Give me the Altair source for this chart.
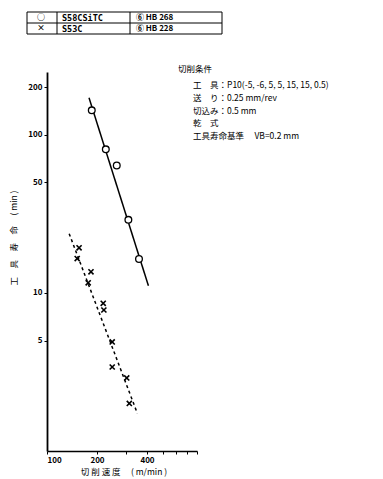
import altair as alt
import pandas as pd

# --- data ---
circ_x = [186, 226, 263, 309, 358]
circ_y = [143, 81, 64, 29, 16.4]
circ_line_x = [179, 408]
circ_line_y = [172, 11.1]

cross_x = [156, 152, 184, 177, 218, 220, 247, 247, 302, 313]
cross_y = [19.3, 16.5, 13.6, 11.6, 8.6, 7.8, 4.9, 3.4, 2.9, 2.0]
cross_line_x = [136, 350]
cross_line_y = [23.7, 1.73]

x_ticks = [100, 200, 300, 400, 500, 600, 700, 800]
x_labeled = [100, 200, 400]
y_ticks = [5, 10, 50, 100, 200]

legend_sym = ["○", "×"]
legend_mat = ["S58CSiTC", "S53C"]
legend_hb = ["⑥  HB  268", "⑥  HB  228"]

cond_title = "切削条件"
cond_lines = [
    "工　具：P10(-5, -6, 5, 5, 15, 15, 0.5)",
    "送　り：0.25 mm/rev",
    "切込み：0.5 mm",
    "乾　式",
    "工具寿命基準　 VB=0.2 mm",
]
x_title = "切 削 速 度　 ( m/min )"
y_title = "工　具　寿　命　 ( min )"

FONT = "Noto Sans CJK JP"
MONO = "DejaVu Sans Mono"

xs = alt.Scale(type="log", domain=[100, 800])
ys = alt.Scale(type="log", domain=[1, 250])

x_axis = alt.Axis(values=x_ticks, grid=False, title=None, tickSize=3,
                  labelExpr="indexof([100,200,400], datum.value) >= 0 ? datum.label : ''",
                  labelFont=FONT, labelFontSize=8, labelFontWeight="bold",
                  labelPadding=2, domainColor="black", domainWidth=1.5,
                  tickColor="black", labelColor="black", format="d")
y_axis = alt.Axis(values=y_ticks, grid=False, title=None, tickSize=3,
                  labelFont=FONT, labelFontSize=8, labelFontWeight="bold",
                  labelPadding=2, domainColor="black", domainWidth=1.8,
                  tickColor="black", labelColor="black", format="d")

circ_df = pd.DataFrame({"v": circ_x, "t": circ_y})
cross_df = pd.DataFrame({"v": cross_x, "t": cross_y})
cl_df = pd.DataFrame({"v": circ_line_x, "t": circ_line_y})
xl_df = pd.DataFrame({"v": cross_line_x, "t": cross_line_y})

base_x = alt.X("v:Q", scale=xs, axis=x_axis)
base_y = alt.Y("t:Q", scale=ys, axis=y_axis)

circ_line = alt.Chart(cl_df).mark_line(color="black", strokeWidth=1.5).encode(x=base_x, y=base_y)
cross_line = alt.Chart(xl_df).mark_line(color="black", strokeWidth=1.5, strokeDash=[3, 3]).encode(
    x=alt.X("v:Q", scale=xs), y=alt.Y("t:Q", scale=ys))
circ_pts = alt.Chart(circ_df).mark_point(shape="circle", filled=True, fill="white", stroke="black",
                                         strokeWidth=1.3, size=45, opacity=1).encode(
    x=alt.X("v:Q", scale=xs), y=alt.Y("t:Q", scale=ys))
cross_pts = alt.Chart(cross_df).mark_point(shape="M-1,-1L1,1M-1,1L1,-1", filled=False, stroke="black",
                                           strokeWidth=1.6, size=26, opacity=1).encode(
    x=alt.X("v:Q", scale=xs), y=alt.Y("t:Q", scale=ys))

dummy = pd.DataFrame({"a": [0]})

def txt(text, x, y, angle=0, align="left", size=8, weight="normal", font=FONT):
    kw = dict(text=text, align=align, baseline="middle", font=font, fontSize=size,
              fontWeight=weight, color="black")
    if angle:
        kw["angle"] = angle
    return alt.Chart(dummy).mark_text(**kw).encode(x=alt.value(x), y=alt.value(y))

def hrule(x1, x2, y):
    return alt.Chart(dummy).mark_rule(color="black", strokeWidth=1).encode(
        x=alt.value(x1), x2=alt.value(x2), y=alt.value(y))

def vrule(x, y1, y2):
    return alt.Chart(dummy).mark_rule(color="black", strokeWidth=1).encode(
        x=alt.value(x), y=alt.value(y1), y2=alt.value(y2))

OX, OY = 47, 72  # plot origin in page pixels

layers = [circ_line, cross_line, circ_pts, cross_pts]

# legend table
tl, tr, tt, tb, tm = 27 - OX, 222 - OX, 12 - OY, 34 - OY, 23 - OY
layers += [hrule(tl, tr, tt), hrule(tl, tr, tm), hrule(tl, tr, tb),
           vrule(tl, tt, tb), vrule(57 - OX, tt, tb), vrule(130 - OX, tt, tb), vrule(tr, tt, tb)]
for i in range(2):
    yy = (17.8 if i == 0 else 28.8) - OY
    layers.append(txt(legend_sym[i], 41 - OX, yy, align="center", weight="bold", size=8))
    layers.append(txt(legend_mat[i], 62 - OX, yy, weight="bold", size=8.5, font=MONO))
    layers.append(txt(legend_hb[i], 136 - OX, yy, weight="bold", size=8))

# cutting conditions
layers.append(txt(cond_title, 178 - OX, 69 - OY, size=8.5))
layers.append(alt.Chart(dummy).mark_text(text=cond_lines, align="left", baseline="middle", font=FONT,
                                         fontSize=8.5, lineHeight=12.8, color="black").encode(
    x=alt.value(193 - OX), y=alt.value(85 - OY)))

# axis titles
layers.append(txt(x_title, 124 - OX, 472 - OY, align="center", size=8.5))
layers.append(txt(y_title, 14 - OX, 238 - OY, angle=270, align="center", size=8.5))

chart = alt.layer(*layers).properties(
    width=150, height=379,
    autosize=alt.AutoSizeParams(type="none"),
    padding={"left": OX, "top": OY, "right": 383 - OX - 150, "bottom": 479 - OY - 379},
    background="white",
).configure_view(stroke=None)

chart.save("out.html", embed_options={"renderer": "svg", "actions": False})
